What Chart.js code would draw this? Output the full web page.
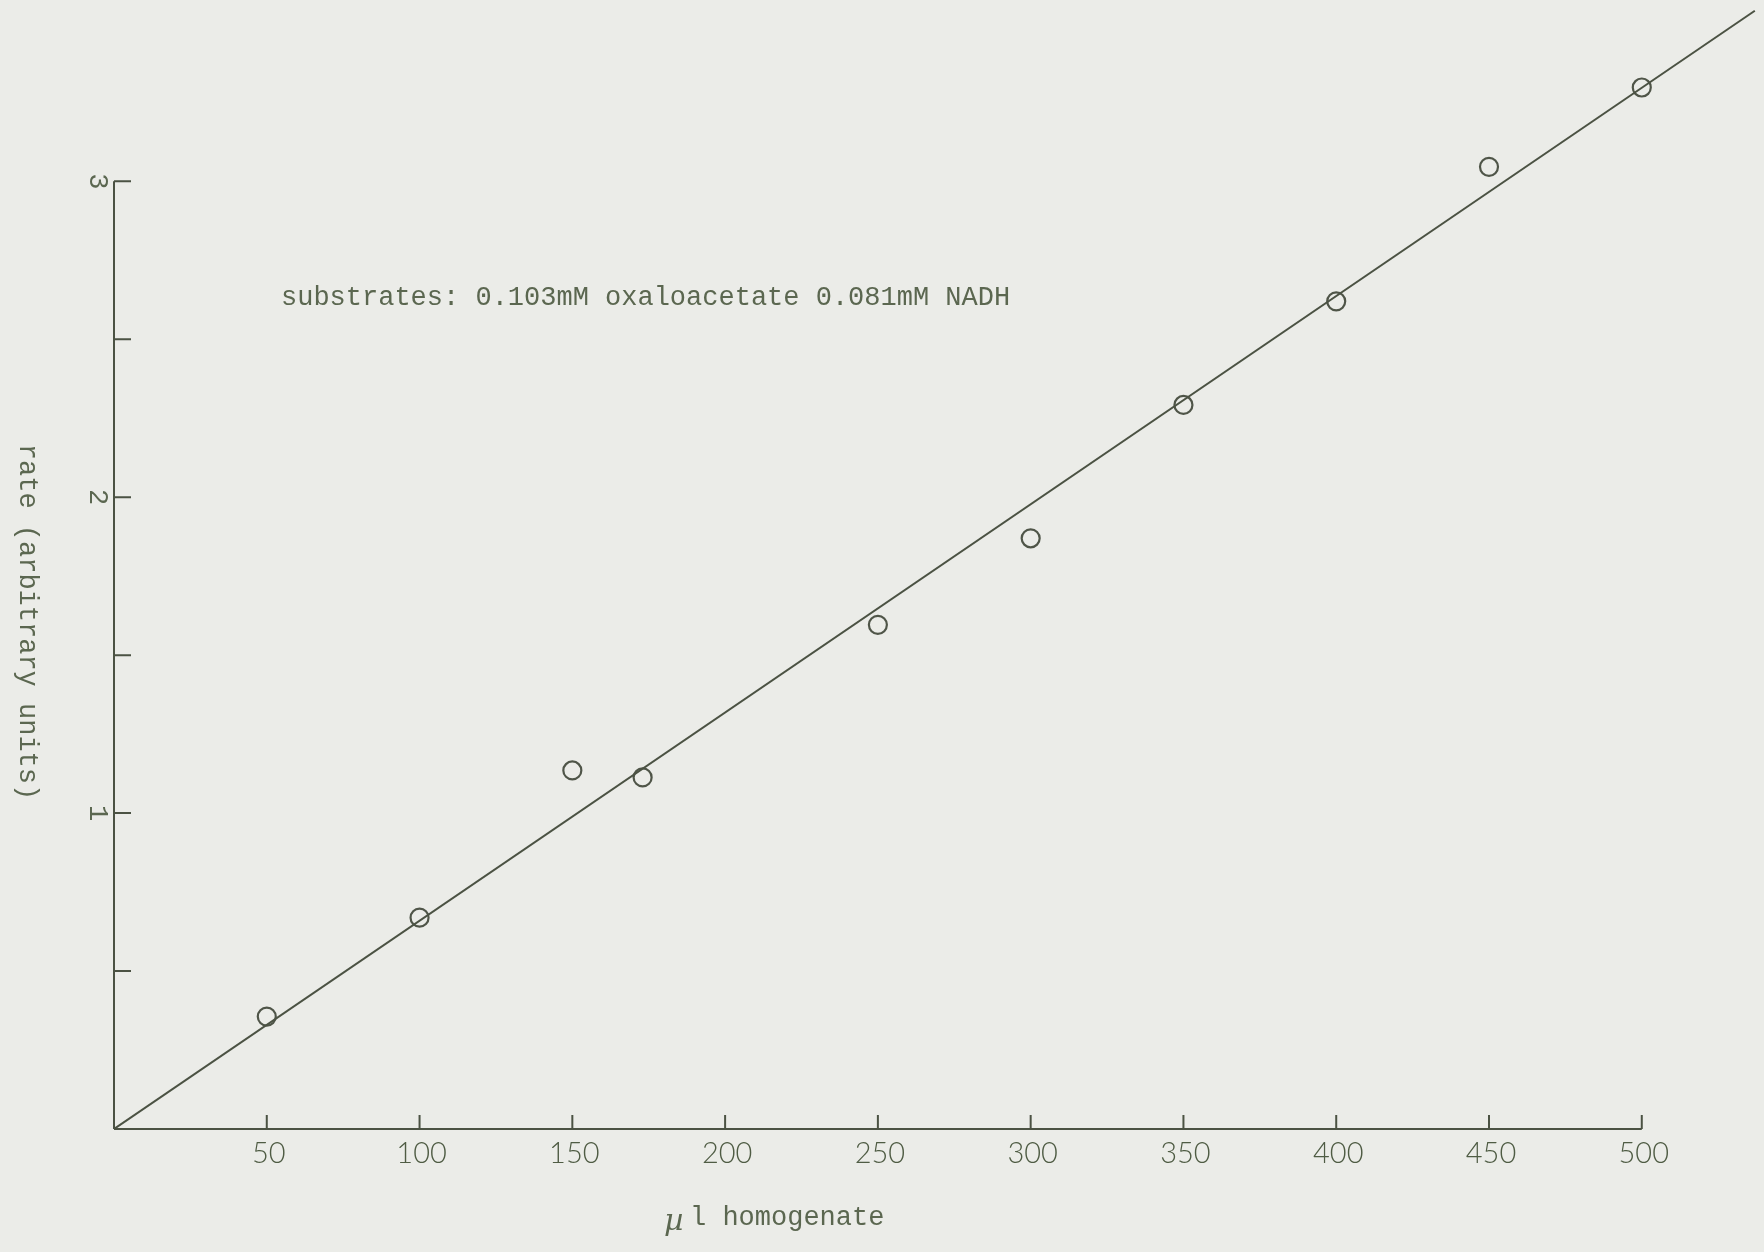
<!DOCTYPE html>
<html>
<head>
<meta charset="utf-8">
<title>rate vs homogenate</title>
<script src="https://cdn.jsdelivr.net/npm/chart.js@4.4.1/dist/chart.umd.min.js"></script>
<style>
  html, body { margin: 0; padding: 0; background: #ebece8; }
  canvas { display: block; }
</style>
</head>
<body>
<canvas id="rateChart" width="1764" height="1252"></canvas>
<script>
// measured points (µl homogenate, rate)
const volumes = [50, 100, 150, 173, 250, 300, 350, 400, 450, 500];
const rates = [0.356, 0.669, 1.135, 1.113, 1.596, 1.870, 2.292, 2.620, 3.046, 3.297];

// hand-drawn straight line through origin
const fitX = [0, 537];
const fitY = [0, 3.54];

const xTicks = [50, 100, 150, 200, 250, 300, 350, 400, 450, 500];
const yTicks = [0.5, 1, 1.5, 2, 2.5, 3];
const yTickLabels = { 1: '1', 2: '2', 3: '3' };

const ink = '#4b5243';
const textInk = '#5b6750';
const mono = '"Liberation Mono", "DejaVu Sans Mono", monospace';

const axesPlugin = {
    id: 'typedAxes',
    afterDatasetsDraw(chart) {
        const ctx = chart.ctx;
        const xs = chart.scales.x;
        const ys = chart.scales.y;
        const x0 = xs.getPixelForValue(0);
        const y0 = ys.getPixelForValue(0);

        ctx.save();
        ctx.strokeStyle = ink;
        ctx.lineWidth = 2;
        ctx.lineCap = 'butt';

        // axis lines
        ctx.beginPath();
        ctx.moveTo(x0, y0);
        ctx.lineTo(xs.getPixelForValue(xTicks[xTicks.length - 1]), y0);
        ctx.moveTo(x0, y0);
        ctx.lineTo(x0, ys.getPixelForValue(yTicks[yTicks.length - 1]));
        ctx.stroke();

        // inward tick marks
        ctx.beginPath();
        xTicks.forEach(function(v) {
            const px = xs.getPixelForValue(v);
            ctx.moveTo(px, y0);
            ctx.lineTo(px, y0 - 14);
        });
        yTicks.forEach(function(v) {
            const py = ys.getPixelForValue(v);
            ctx.moveTo(x0, py);
            ctx.lineTo(x0 + 17, py);
        });
        ctx.stroke();

        // x tick labels
        ctx.fillStyle = '#4f5c44';
        ctx.font = '300 29px Lato, "DejaVu Sans", sans-serif';
        ctx.textAlign = 'center';
        ctx.textBaseline = 'middle';
        xTicks.forEach(function(v) {
            ctx.fillText(String(v), xs.getPixelForValue(v) + 2, y0 + 25);
        });

        ctx.fillStyle = textInk;

        // y tick labels, typed sideways
        ctx.font = '27px ' + mono;
        yTicks.forEach(function(v) {
            if (!yTickLabels[v]) return;
            ctx.save();
            ctx.translate(x0 - 17, ys.getPixelForValue(v));
            ctx.rotate(Math.PI / 2);
            ctx.fillText(yTickLabels[v], 0, 0);
            ctx.restore();
        });

        // y title
        ctx.save();
        ctx.translate(27, 622);
        ctx.rotate(Math.PI / 2);
        ctx.font = '27px ' + mono;
        ctx.fillText('rate (arbitrary units)', 0, 0);
        ctx.restore();

        // x title
        ctx.textAlign = 'left';
        ctx.font = 'italic 30px "DejaVu Serif", serif';
        ctx.fillText('\u00b5', 664, 1222);
        ctx.font = '27px ' + mono;
        ctx.fillText('l homogenate', 690, 1218);

        // annotation
        ctx.fillText('substrates: 0.103mM oxaloacetate 0.081mM NADH', 281, 298);

        ctx.restore();
    }
};

new Chart(document.getElementById('rateChart'), {
    type: 'scatter',
    data: {
        datasets: [
            {
                label: 'line',
                data: fitX.map(function(x, i) { return { x: x, y: fitY[i] }; }),
                showLine: true,
                borderColor: ink,
                borderWidth: 2,
                pointRadius: 0
            },
            {
                label: 'rate',
                data: volumes.map(function(x, i) { return { x: x, y: rates[i] }; }),
                showLine: false,
                pointStyle: 'circle',
                pointRadius: 9,
                borderWidth: 2.2,
                borderColor: '#4f5548',
                backgroundColor: 'rgba(0,0,0,0)'
            }
        ]
    },
    options: {
        responsive: false,
        animation: false,
        devicePixelRatio: 1,
        layout: { autoPadding: false, padding: { left: 114, right: 0, top: 0, bottom: 123 } },
        plugins: {
            legend: { display: false },
            tooltip: { enabled: false }
        },
        scales: {
            x: { type: 'linear', min: 0, max: 540, display: false },
            y: { type: 'linear', min: 0, max: 3.574, display: false }
        }
    },
    plugins: [axesPlugin]
});
</script>
</body>
</html>
